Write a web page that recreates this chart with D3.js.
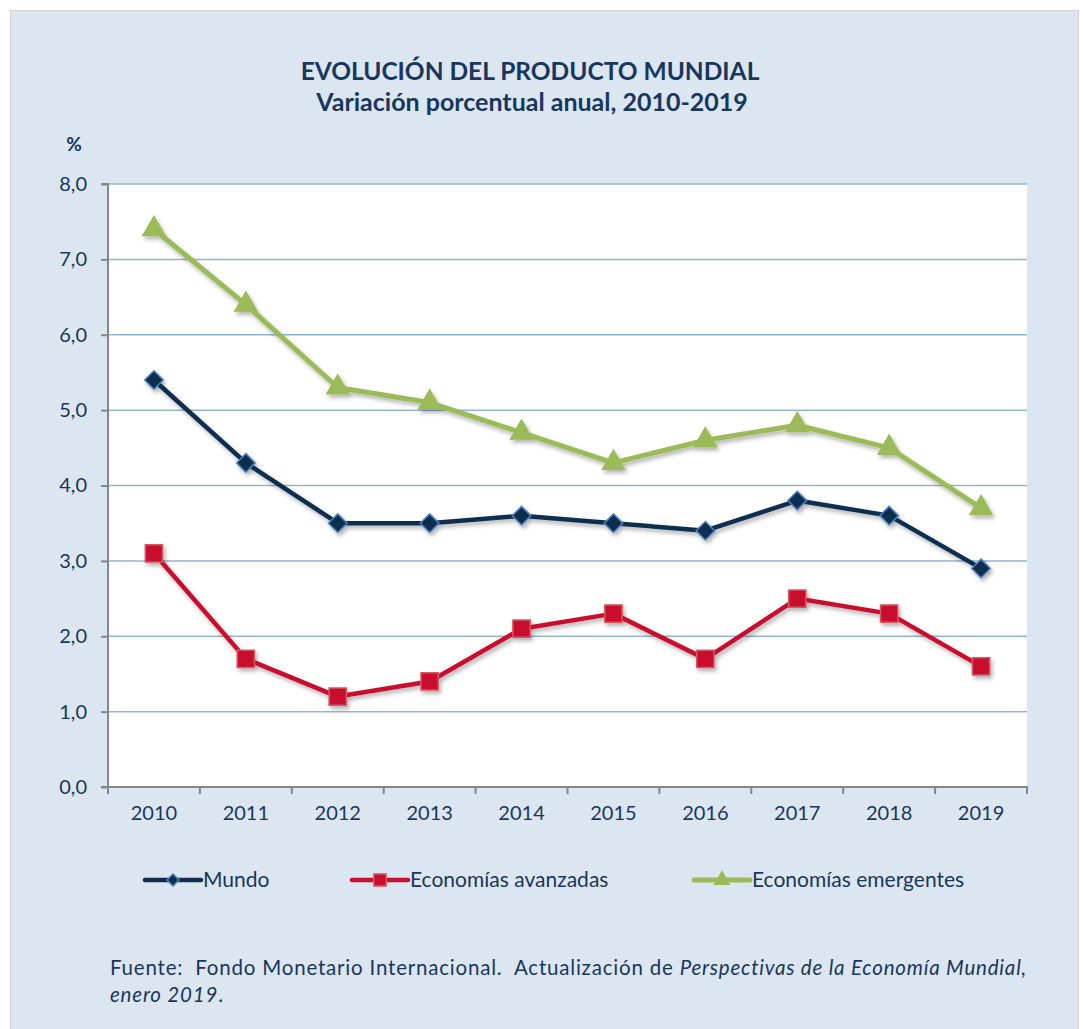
<!DOCTYPE html>
<html>
<head>
<meta charset="utf-8">
<script src="https://cdn.jsdelivr.net/npm/d3@7"></script>
<style>
  body { margin: 0; background: #ffffff; }
  text { font-family: Lato, "Open Sans", sans-serif; fill: #17375e; white-space: pre; }
</style>
</head>
<body>
<svg id="chart" width="1083" height="1029"></svg>
<script>
// chart data
const years = ["2010", "2011", "2012", "2013", "2014", "2015", "2016", "2017", "2018", "2019"];
const mundo = [5.4, 4.3, 3.5, 3.5, 3.6, 3.5, 3.4, 3.8, 3.6, 2.9];
const avanzadas = [3.1, 1.7, 1.2, 1.4, 2.1, 2.3, 1.7, 2.5, 2.3, 1.6];
const emergentes = [7.4, 6.4, 5.3, 5.1, 4.7, 4.3, 4.6, 4.8, 4.5, 3.7];
const yTicks = [0, 1, 2, 3, 4, 5, 6, 7, 8];
const seriesNames = ["Mundo", "Economías avanzadas", "Economías emergentes"];

const svg = d3.select("#chart");
const margin = { top: 184, left: 108, right: 56, bottom: 242 };
const width = 1083, height = 1029;
const plotW = width - margin.left - margin.right;
const plotH = height - margin.top - margin.bottom;

// background panel
svg.append("rect")
  .attr("x", 10.5).attr("y", 10.5)
  .attr("width", 1068).attr("height", 1030)
  .attr("fill", "#dce6f1")
  .attr("stroke", "#d0d4d9");

const defs = svg.append("defs");
const shadow = defs.append("filter").attr("id", "shadow")
  .attr("x", "-20%").attr("y", "-20%").attr("width", "140%").attr("height", "140%");
shadow.append("feDropShadow")
  .attr("dx", 2).attr("dy", 3).attr("stdDeviation", 2)
  .attr("flood-color", "#000").attr("flood-opacity", 0.3);

// titles
svg.append("text").attr("x", 530).attr("y", 80).attr("text-anchor", "middle")
  .style("font-size", "24.5px").style("font-weight", "bold")
  .text("EVOLUCIÓN DEL PRODUCTO MUNDIAL");
svg.append("text").attr("x", 532).attr("y", 111).attr("text-anchor", "middle")
  .style("font-size", "25px").style("font-weight", "bold")
  .text("Variación porcentual anual, 2010-2019");
svg.append("text").attr("x", 74).attr("y", 151).attr("text-anchor", "middle")
  .style("font-size", "19px").style("font-weight", "bold")
  .text("%");

const g = svg.append("g").attr("transform", `translate(${margin.left},${margin.top})`);

const x = d3.scaleBand().domain(years).range([0, plotW]);
const y = d3.scaleLinear().domain([0, 8]).range([plotH, 0]);

g.append("rect").attr("width", plotW).attr("height", plotH).attr("fill", "#ffffff");

// gridlines
g.append("g").selectAll("line")
  .data(yTicks.filter(d => d > 0))
  .join("line")
  .attr("x1", 0).attr("x2", plotW)
  .attr("y1", d => y(d)).attr("y2", d => y(d))
  .attr("stroke", "#95b3d7").attr("stroke-width", 1.5);

// axes
const yAxis = g.append("g")
  .call(d3.axisLeft(y).tickValues(yTicks).tickSize(7).tickPadding(14)
    .tickFormat(d => d3.format(".1f")(d).replace(".", ",")));
const xAxis = g.append("g").attr("transform", `translate(0,${plotH})`)
  .call(d3.axisBottom(x).tickSize(0).tickPadding(19));

[yAxis, xAxis].forEach(ax => {
  ax.select(".domain").attr("stroke", "#868686").attr("stroke-width", 2);
  ax.selectAll(".tick line").attr("stroke", "#868686").attr("stroke-width", 2);
  ax.selectAll("text").style("font-size", "20px").attr("fill", "#17375e")
    .style("font-family", "Lato, 'Open Sans', sans-serif");
});
yAxis.select(".domain").attr("d", `M-7,${plotH}H0V0H-7`);
xAxis.select(".domain").attr("d", `M0,7V0H${plotW}V7`);
// category boundary tick marks
xAxis.append("g").selectAll("line")
  .data(years.slice(1))
  .join("line")
  .attr("x1", d => x(d)).attr("x2", d => x(d))
  .attr("y1", 0).attr("y2", 7)
  .attr("stroke", "#868686").attr("stroke-width", 2);

const cx = d => x(d) + x.bandwidth() / 2;
const line = d3.line().x((d, i) => cx(years[i])).y(d => y(d));

const series = [
  { name: seriesNames[2], values: emergentes, color: "#9bbb59", width: 5,
    symbol: d3.symbolTriangle, size: 210, fill: "#9bbb59", stroke: "#9bbb59", legendSize: 90 },
  { name: seriesNames[0], values: mundo, color: "#0f2d4f", width: 4.5,
    symbol: d3.symbolDiamond2, size: 220, fill: "#0f2d4f", stroke: "#4f81bd", legendSize: 90 },
  { name: seriesNames[1], values: avanzadas, color: "#c8102e", width: 4.5,
    symbol: d3.symbolSquare2, size: 380, fill: "#c8102e", stroke: "#d25a62", legendSize: 190 }
];

series.forEach(s => {
  const sg = g.append("g").attr("filter", "url(#shadow)");
  sg.append("path").datum(s.values)
    .attr("d", line).attr("fill", "none")
    .attr("stroke", s.color).attr("stroke-width", s.width)
    .attr("stroke-linejoin", "round");
  sg.selectAll("path.m").data(s.values).join("path").attr("class", "m")
    .attr("transform", (d, i) => `translate(${cx(years[i])},${y(d)})`)
    .attr("d", d3.symbol().type(s.symbol).size(s.size))
    .attr("fill", s.fill).attr("stroke", s.stroke).attr("stroke-width", 1.5);
});

// legend
const legendItems = [
  { s: series[1], x: 145 },
  { s: series[2], x: 352 },
  { s: series[0], x: 694 }
];
const lg = svg.append("g").attr("transform", "translate(0,880)");
legendItems.forEach(item => {
  const s = item.s;
  lg.append("line").attr("x1", item.x).attr("x2", item.x + 56)
    .attr("y1", 0).attr("y2", 0)
    .attr("stroke", s.color).attr("stroke-width", s.width).attr("stroke-linecap", "round");
  lg.append("path").attr("transform", `translate(${item.x + 28},0)`)
    .attr("d", d3.symbol().type(s.symbol).size(s.legendSize))
    .attr("fill", s.fill).attr("stroke", s.stroke).attr("stroke-width", 1.5);
  lg.append("text").attr("x", item.x + 58).attr("y", 7)
    .style("font-size", "21px").text(s.name);
});

// source note
const note = svg.append("text").attr("x", 110).attr("y", 975)
  .style("font-size", "20.5px").style("letter-spacing", "0.8px");
note.append("tspan").text("Fuente:  Fondo Monetario Internacional.  Actualización de ");
note.append("tspan").style("font-style", "italic").text("Perspectivas de la Economía Mundial,");
const note2 = svg.append("text").attr("x", 110).attr("y", 1002)
  .style("font-size", "20.5px").style("letter-spacing", "0.8px");
note2.append("tspan").style("font-style", "italic").text("enero 2019");
note2.append("tspan").text(".");
</script>
</body>
</html>
